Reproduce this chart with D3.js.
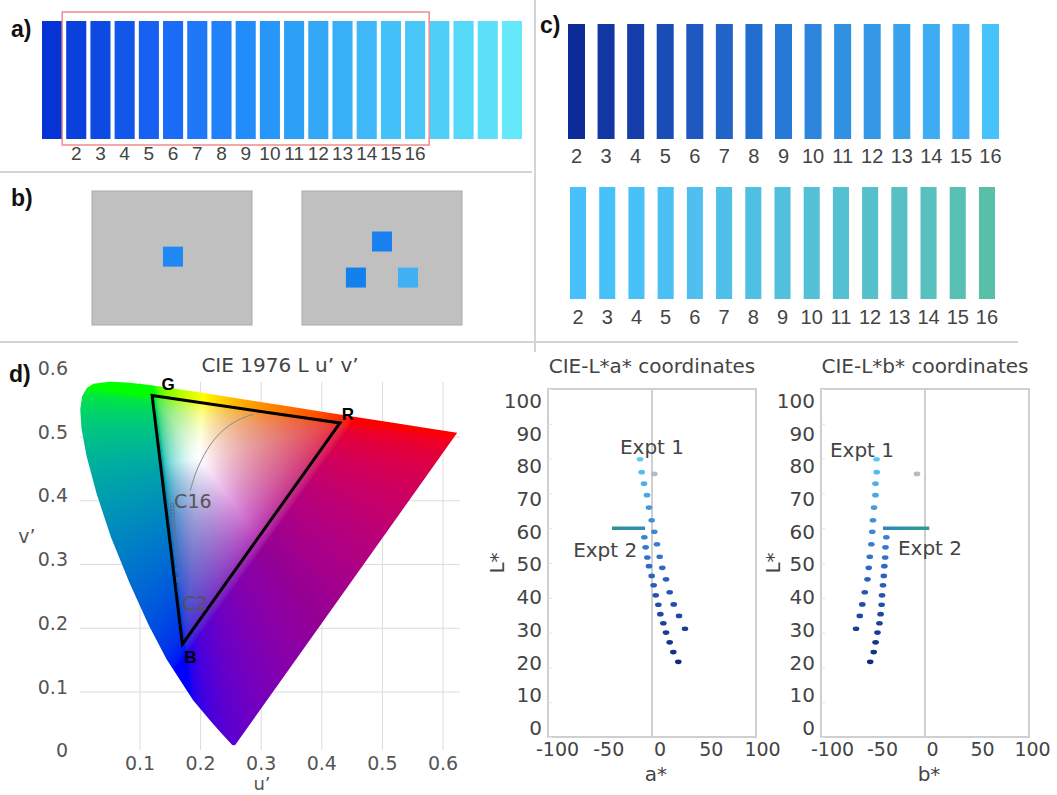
<!DOCTYPE html>
<html>
<head>
<meta charset="utf-8">
<script src="https://cdn.jsdelivr.net/npm/d3@7"></script>
<style>
  body { margin: 0; background: #fff; }
  svg { display: block; }
  text { font-family: "Liberation Sans", Arial, sans-serif; }
  .dv { font-family: "DejaVu Sans", sans-serif; }
</style>
</head>
<body>
<svg id="fig" width="1057" height="795"></svg>
<script>
// ---- data ----
const stripColors = ["#0634d4","#0a40dc","#0c4ae2","#1256ea","#1660f2","#1a6cf6","#1e78f8","#2082fa","#228cfa","#2696f8",
                     "#2ca0f6","#32a8f6","#38b0f8","#3eb8f8","#44c0f8","#48c6f8","#50d0f8","#56d8f8","#5ce0f8","#64e8fa"];
const stripIds = ["1","2","3","4","5","6","7","8","9","10","11","12","13","14","15","16","17","18","19","20"];
const barLabels = ["2","3","4","5","6","7","8","9","10","11","12","13","14","15","16"];
const expt1Colors = ["#0c2a98","#1236a4","#163eaa","#1a4cb6","#1e58c0","#2064c8","#226ed0","#287ad8","#2e86dc","#3090e2",
                     "#3498e6","#38a2ec","#3eacf2","#42b0f6","#48c2fa"];
const expt2Colors = ["#48c0fc","#48c0fa","#48c0f8","#4cc0f4","#50bff0","#50c0ea","#50c0e2","#52c0dc","#54c0d6","#54c0d2",
                     "#56c0ca","#58c0c4","#58c0be","#58c0b2","#58c0a8"];

// stimulus displays (fractions of each grey display)
const display1 = [{fx: 0.506, fy: 0.49, c: "#1e88f5"}];
const display2 = [{fx: 0.5, fy: 0.377, c: "#1a80f0"}, {fx: 0.337, fy: 0.646, c: "#1480ee"}, {fx: 0.6625, fy: 0.646, c: "#40b0f5"}];

// CIE 1976 spectral locus (u', v'), 380 -> 700 nm
const locusU = [0.2568,0.2522,0.2347,0.2161,0.1877,0.1441,0.1147,0.0828,0.0521,0.0282,0.0119,0.0035,0.0014,0.0046,0.0123,0.0231,
                0.0501,0.0792,0.1127,0.1531,0.2026,0.2623,0.3315,0.4035,0.4692,0.5203,0.5830,0.6234];
const locusV = [0.0165,0.0169,0.0350,0.0549,0.0871,0.1510,0.2044,0.2708,0.3427,0.4117,0.4698,0.5131,0.5432,0.5638,0.5770,0.5837,
                0.5868,0.5856,0.5821,0.5766,0.5694,0.5604,0.5501,0.5393,0.5296,0.5219,0.5125,0.5065];
const primaries = [{n: "G", u: 0.120, v: 0.565}, {n: "R", u: 0.430, v: 0.522}, {n: "B", u: 0.170, v: 0.175}];
const stimU = [0.153,0.1535,0.154,0.154,0.1545,0.155,0.1557,0.156,0.1568,0.158,0.159,0.160,0.161,0.1617,0.163];
const stimV = [0.393,0.388,0.383,0.378,0.372,0.366,0.360,0.353,0.345,0.336,0.327,0.317,0.305,0.292,0.276];
const curveU = [0.183,0.190,0.200,0.221,0.254,0.287];
const curveV = [0.416,0.440,0.4625,0.498,0.525,0.536];
const uvTicks = [0.1,0.2,0.3,0.4,0.5,0.6];
const vTicks = [0,0.1,0.2,0.3,0.4,0.5,0.6];

// CIE L*a*b* points
const expt1L = [79.8,76.1,72.8,69.5,65.9,62.3,59.0,55.4,51.8,48.6,45.3,41.6,38.1,34.8,31.1];
const expt1A = [-11.5,-9.9,-7.7,-4.8,-2.9,-0.3,2.2,4.8,7.4,9.9,13.5,17.0,20.9,26.0,31.7];
const expt1B = [-46.6,-46.4,-47.6,-47.6,-49.0,-50.0,-50.7,-51.6,-53.1,-54.1,-55.3,-57.9,-60.3,-62.7,-66.3];
const expt2L = [57.4,54.5,51.6,49.1,46.3,43.6,40.7,38.0,35.3,32.7,30.0,27.2,24.4,21.6];
const expt2A = [-7.4,-6.1,-4.5,-2.9,-0.3,1.6,3.6,6.1,8.0,10.9,13.5,17.0,20.5,25.3];
const expt2B = [-37.2,-38.0,-38.3,-39.1,-39.6,-40.4,-41.3,-41.7,-42.7,-43.8,-45.7,-47.5,-49.3,-52.7];
const bgPoint = {L: 75.6, a: 2.2, b: -7.7};
const isoLine = {L: 60, a: [-38.5, -6.7], b: [-40.4, 4.1]};
const labTicks = [-100,-50,0,50,100];
const lTicks = [0,10,20,30,40,50,60,70,80,90,100];

const svg = d3.select("#fig");
const defs = svg.append("defs");
const txt = "#444";

// ---- panel separators ----
const sep = svg.append("g").attr("stroke", "#d4d4d4").attr("stroke-width", 2);
sep.append("line").attr("x1", 0).attr("x2", 532).attr("y1", 172).attr("y2", 172);
sep.append("line").attr("x1", 535).attr("x2", 535).attr("y1", 0).attr("y2", 352);
sep.append("line").attr("x1", 0).attr("x2", 1018).attr("y1", 342).attr("y2", 342);

function panelLabel(s, x, y) {
    svg.append("text").attr("x", x).attr("y", y).text(s)
        .style("font-size", "23px").style("font-weight", "bold").attr("fill", "#111");
}

// ---- a) colour strip ----
const xa = d3.scaleBand().domain(stripIds).range([42, 522]).paddingInner(0.17);
svg.append("g").selectAll("rect").data(stripIds).enter().append("rect")
    .attr("x", d => xa(d)).attr("y", 21).attr("width", xa.bandwidth()).attr("height", 118)
    .attr("fill", (d, i) => stripColors[i]);
svg.append("rect")
    .attr("x", xa("2") - 4).attr("y", 12)
    .attr("width", xa("16") + xa.bandwidth() + 4 - (xa("2") - 4)).attr("height", 133)
    .attr("fill", "none").attr("stroke", "#f28b8b").attr("stroke-width", 1.5);
svg.append("g").selectAll("text").data(barLabels).enter().append("text")
    .attr("x", d => xa(d) + xa.bandwidth() / 2).attr("y", 160)
    .attr("text-anchor", "middle").style("font-size", "19px").attr("fill", txt).text(d => d);
panelLabel("a)", 11, 37);

// ---- b) stimulus displays ----
panelLabel("b)", 11, 206);
[[92, display1], [302, display2]].forEach(([x0, squares]) => {
    const sx = d3.scaleLinear().domain([0, 1]).range([x0, x0 + 160]);
    const sy = d3.scaleLinear().domain([0, 1]).range([191, 325]);
    svg.append("rect").attr("x", sx(0)).attr("y", sy(0)).attr("width", sx(1) - sx(0)).attr("height", sy(1) - sy(0))
        .attr("fill", "#c0c0c0").attr("stroke", "#aaa").attr("stroke-width", 1);
    svg.append("g").selectAll("rect").data(squares).enter().append("rect")
        .attr("x", d => sx(d.fx) - 10).attr("y", d => sy(d.fy) - 10)
        .attr("width", 20).attr("height", 20).attr("fill", d => d.c);
});

// ---- c) two experiment strips ----
panelLabel("c)", 540, 33);
function strip(colors, r, top, h, labelY, pad) {
    const x = d3.scaleBand().domain(barLabels).range(r).paddingInner(pad);
    svg.append("g").selectAll("rect").data(barLabels).enter().append("rect")
        .attr("x", d => x(d)).attr("y", top).attr("width", x.bandwidth()).attr("height", h)
        .attr("fill", (d, i) => colors[i]);
    svg.append("g").selectAll("text").data(barLabels).enter().append("text")
        .attr("x", d => x(d) + x.bandwidth() / 2).attr("y", labelY)
        .attr("text-anchor", "middle").style("font-size", "20px").attr("fill", txt).text(d => d);
}
strip(expt1Colors, [568, 999], 24, 115, 163, 0.425);
strip(expt2Colors, [570, 995], 187, 112, 324, 0.45);

// ---- d) CIE 1976 u'v' ----
panelLabel("d)", 9, 382);
const uS = d3.scaleLinear().domain([0, 0.6]).range([79.4, 443]);
const vS = d3.scaleLinear().domain([0, 0.6]).range([755.75, 373.25]);

const grid = svg.append("g").attr("stroke", "#dcdcdc").attr("stroke-width", 1);
grid.selectAll(".gx").data(uvTicks).enter().append("line")
    .attr("x1", d => uS(d)).attr("x2", d => uS(d)).attr("y1", 382).attr("y2", 750);
grid.selectAll(".gy").data(vTicks.filter(d => d > 0 && d < 0.6)).enter().append("line")
    .attr("x1", 80).attr("x2", 460).attr("y1", d => vS(d)).attr("y2", d => vS(d));

// chromaticity fill rendered per pixel, clipped to the locus
const locus = locusU.map((u, i) => [u, locusV[i]]);
const locusPath = d3.line().x(d => uS(d[0])).y(d => vS(d[1]))(locus) + "Z";
defs.append("clipPath").attr("id", "locusClip").append("path").attr("d", locusPath);

const cx0 = 70, cy0 = 370, cw = 400, ch = 400;
const canvas = document.createElement("canvas");
canvas.width = cw; canvas.height = ch;
const ctx = canvas.getContext("2d");
const img = ctx.createImageData(cw, ch);
const gam = c => c <= 0.0031308 ? 12.92 * c : 1.055 * Math.pow(c, 1 / 2.4) - 0.055;
for (let py = 0; py < ch; py++) {
    for (let px = 0; px < cw; px++) {
        const u = uS.invert(cx0 + px + 0.5), v = Math.max(vS.invert(cy0 + py + 0.5), 0.002);
        const dd = 6 * u - 16 * v + 12;
        const x = 9 * u / dd, y = 4 * v / dd;
        const X = x / y, Z = (1 - x - y) / y;
        let r = Math.max(3.2406 * X - 1.5372 - 0.4986 * Z, 0);
        let g = Math.max(-0.9689 * X + 1.8758 + 0.0415 * Z, 0);
        let b = Math.max(0.0557 * X - 0.2040 + 1.0570 * Z, 0);
        const m = Math.max(r, g, b) || 1;
        r = gam(r / m); g = gam(g / m); b = gam(b / m);
        // widen the pale centre a little
        const s = 1 - Math.min(r, g, b);
        if (s > 0) {
            const f = Math.pow(s, 1.4) / s;
            r = 1 - (1 - r) * f; g = 1 - (1 - g) * f; b = 1 - (1 - b) * f;
        }
        // purples and teals come out darker in the printed diagram
        const dark = 1 - 0.42 * Math.min(r, b) * (1 - g) - 0.35 * Math.min(g, b) * (1 - r);
        const k = (py * cw + px) * 4;
        img.data[k] = 255 * r * dark;
        img.data[k + 1] = 255 * g * dark;
        img.data[k + 2] = 255 * b * dark;
        img.data[k + 3] = 255;
    }
}
ctx.putImageData(img, 0, 0);
svg.append("image").attr("href", canvas.toDataURL())
    .attr("x", cx0).attr("y", cy0).attr("width", cw).attr("height", ch)
    .attr("clip-path", "url(#locusClip)");

svg.append("path")
    .attr("d", d3.line().curve(d3.curveBasis).x(d => uS(d)).y((d, i) => vS(curveV[i]))(curveU))
    .attr("fill", "none").attr("stroke", "#8a8a8a").attr("stroke-width", 1);

svg.append("g").selectAll("rect").data(stimU).enter().append("rect")
    .attr("x", d => uS(d) - 1.5).attr("y", (d, i) => vS(stimV[i]) - 1.5)
    .attr("width", 3).attr("height", 3)
    .attr("fill", "none").attr("stroke", "#5f6f95").attr("stroke-width", 0.8);

svg.append("path")
    .attr("d", d3.line().x(d => uS(d.u)).y(d => vS(d.v))(primaries) + "Z")
    .attr("fill", "none").attr("stroke", "#000").attr("stroke-width", 3).attr("stroke-linejoin", "miter");
const primOff = {G: [16, -6], R: [8, -3], B: [8, 19]};
svg.append("g").selectAll("text").data(primaries).enter().append("text")
    .attr("x", d => uS(d.u) + primOff[d.n][0]).attr("y", d => vS(d.v) + primOff[d.n][1])
    .attr("text-anchor", "middle").style("font-size", "17px").style("font-weight", "bold")
    .attr("fill", "#000").text(d => d.n);

svg.append("text").attr("class", "dv").attr("x", uS(stimU[0]) + 2).attr("y", vS(stimV[0]) + 3).text("C16")
    .style("font-size", "19px").attr("fill", "#555");
svg.append("text").attr("class", "dv").attr("x", uS(stimU[14]) + 4).attr("y", vS(stimV[14]) + 30).text("C2")
    .style("font-size", "19px").attr("fill", "#555");

svg.append("g").selectAll("text").data(vTicks).enter().append("text").attr("class", "dv")
    .attr("x", 68).attr("y", d => vS(d) - 5).attr("dy", "0.35em").attr("text-anchor", "end")
    .style("font-size", "19px").attr("fill", "#555").text(d => d === 0 ? "0" : d3.format(".1f")(d));
svg.append("g").selectAll("text").data(uvTicks).enter().append("text").attr("class", "dv")
    .attr("x", d => uS(d)).attr("y", 770).attr("text-anchor", "middle")
    .style("font-size", "19px").attr("fill", "#555").text(d => d3.format(".1f")(d));
svg.append("text").attr("class", "dv").attr("x", 280).attr("y", 372).attr("text-anchor", "middle")
    .style("font-size", "20px").attr("fill", txt).text("CIE 1976 L u\u2019 v\u2019");
svg.append("text").attr("class", "dv").attr("x", 27).attr("y", 543).attr("text-anchor", "middle")
    .style("font-size", "19px").attr("fill", "#555").text("v\u2019");
svg.append("text").attr("class", "dv").attr("x", 262).attr("y", 790).attr("text-anchor", "middle")
    .style("font-size", "18px").attr("fill", "#555").text("u\u2019");

// ---- L*a* / L*b* plots ----
const dotColor = d3.scaleLinear().domain([20, 35, 50, 65, 80])
    .range(["#0f287a", "#1c46a2", "#2f6dc6", "#4496dc", "#5ccaf4"]);
const Ly = d3.scaleLinear().domain([0, 100]).range([737, 389]);
const LyLab = d3.scaleLinear().domain([0, 100]).range([728, 401]);

function labPlot(cfg) {
    const x = d3.scaleLinear().domain([-100, 100]).range(cfg.range);
    const xLab = d3.scaleLinear().domain([-100, 100]).range(cfg.labRange);
    const g = svg.append("g");
    g.append("rect").attr("x", x(-100)).attr("y", Ly(100)).attr("width", x(100) - x(-100)).attr("height", Ly(0) - Ly(100))
        .attr("fill", "none").attr("stroke", "#cfcfcf").attr("stroke-width", 2);
    g.append("line").attr("x1", x(0)).attr("x2", x(0)).attr("y1", Ly(100)).attr("y2", Ly(0))
        .attr("stroke", "#cfcfcf").attr("stroke-width", 2);
    const ticks = g.append("g").attr("transform", `translate(${x(-100)},0)`)
        .call(d3.axisLeft(Ly).tickValues(lTicks).tickSizeInner(-4).tickSizeOuter(0).tickFormat(""));
    ticks.select(".domain").remove();
    ticks.selectAll("line").attr("stroke", "#e2e2e2");

    const yl = g.append("g").attr("transform", `translate(${cfg.range[0] - 6},0)`)
        .call(d3.axisLeft(LyLab).tickValues(lTicks).tickSize(0).tickPadding(0));
    yl.select(".domain").remove();
    yl.selectAll("text").attr("class", "dv").style("font-size", "20px").attr("fill", txt);
    const xl = g.append("g").attr("transform", "translate(0,742)")
        .call(d3.axisBottom(xLab).tickValues(labTicks).tickSize(0).tickPadding(0).tickFormat(d => d < 0 ? "-" + (-d) : d));
    xl.select(".domain").remove();
    xl.selectAll("text").attr("class", "dv").style("font-size", "19px").attr("fill", txt);

    g.append("text").attr("class", "dv").attr("x", x(0)).attr("y", 373).attr("text-anchor", "middle")
        .style("font-size", "20px").attr("fill", txt).text(cfg.title);
    g.append("text").attr("class", "dv").attr("x", x(0) + 4).attr("y", 781).attr("text-anchor", "middle")
        .style("font-size", "20px").attr("fill", txt).text(cfg.xName);
    g.append("text").attr("class", "dv").attr("transform", `translate(${cfg.lX},${Ly(50)}) rotate(-90)`).attr("text-anchor", "middle")
        .style("font-size", "20px").attr("fill", txt).text("L*");

    const grad = defs.append("linearGradient").attr("id", cfg.id + "Grad")
        .attr("gradientUnits", "userSpaceOnUse")
        .attr("x1", x(cfg.iso[0])).attr("x2", x(cfg.iso[1])).attr("y1", 0).attr("y2", 0);
    grad.append("stop").attr("offset", 0).attr("stop-color", cfg.isoColors[0]);
    grad.append("stop").attr("offset", 1).attr("stop-color", cfg.isoColors[1]);
    g.append("line").attr("x1", x(cfg.iso[0])).attr("x2", x(cfg.iso[1]))
        .attr("y1", Ly(isoLine.L)).attr("y2", Ly(isoLine.L))
        .attr("stroke", `url(#${cfg.id}Grad)`).attr("stroke-width", 3.5);

    const pts = expt1L.map((L, i) => ({L, v: cfg.v1[i]})).concat(expt2L.map((L, i) => ({L, v: cfg.v2[i]})));
    g.append("g").selectAll("ellipse").data(pts).enter().append("ellipse")
        .attr("cx", d => x(d.v)).attr("cy", d => Ly(d.L)).attr("rx", 3.3).attr("ry", 2.3)
        .attr("fill", d => dotColor(d.L));
    g.append("ellipse").attr("cx", x(cfg.bg)).attr("cy", Ly(bgPoint.L)).attr("rx", 3.3).attr("ry", 2.3)
        .attr("fill", "#b8b8c6");

    g.append("text").attr("class", "dv").attr("x", x(cfg.e1[0])).attr("y", Ly(cfg.e1[1])).attr("dy", "0.35em").attr("text-anchor", "middle")
        .style("font-size", "20px").attr("fill", txt).text("Expt 1");
    g.append("text").attr("class", "dv").attr("x", x(cfg.e2[0])).attr("y", Ly(cfg.e2[1])).attr("dy", "0.35em").attr("text-anchor", "middle")
        .style("font-size", "20px").attr("fill", txt).text("Expt 2");
}

labPlot({id: "a", range: [548, 756], labRange: [557, 762], title: "CIE-L*a* coordinates", xName: "a*", lX: 504,
         v1: expt1A, v2: expt2A, bg: bgPoint.a, iso: isoLine.a, isoColors: ["#279690", "#3a88bc"],
         e1: [0, 83.3], e2: [-45, 53.7]});
labPlot({id: "b", range: [821, 1029], labRange: [832, 1032], title: "CIE-L*b* coordinates", xName: "b*", lX: 780,
         v1: expt1B, v2: expt2B, bg: bgPoint.b, iso: isoLine.b, isoColors: ["#2f86c0", "#2aa08e"],
         e1: [-60.6, 82.5], e2: [4.8, 54.3]});
</script>
</body>
</html>
